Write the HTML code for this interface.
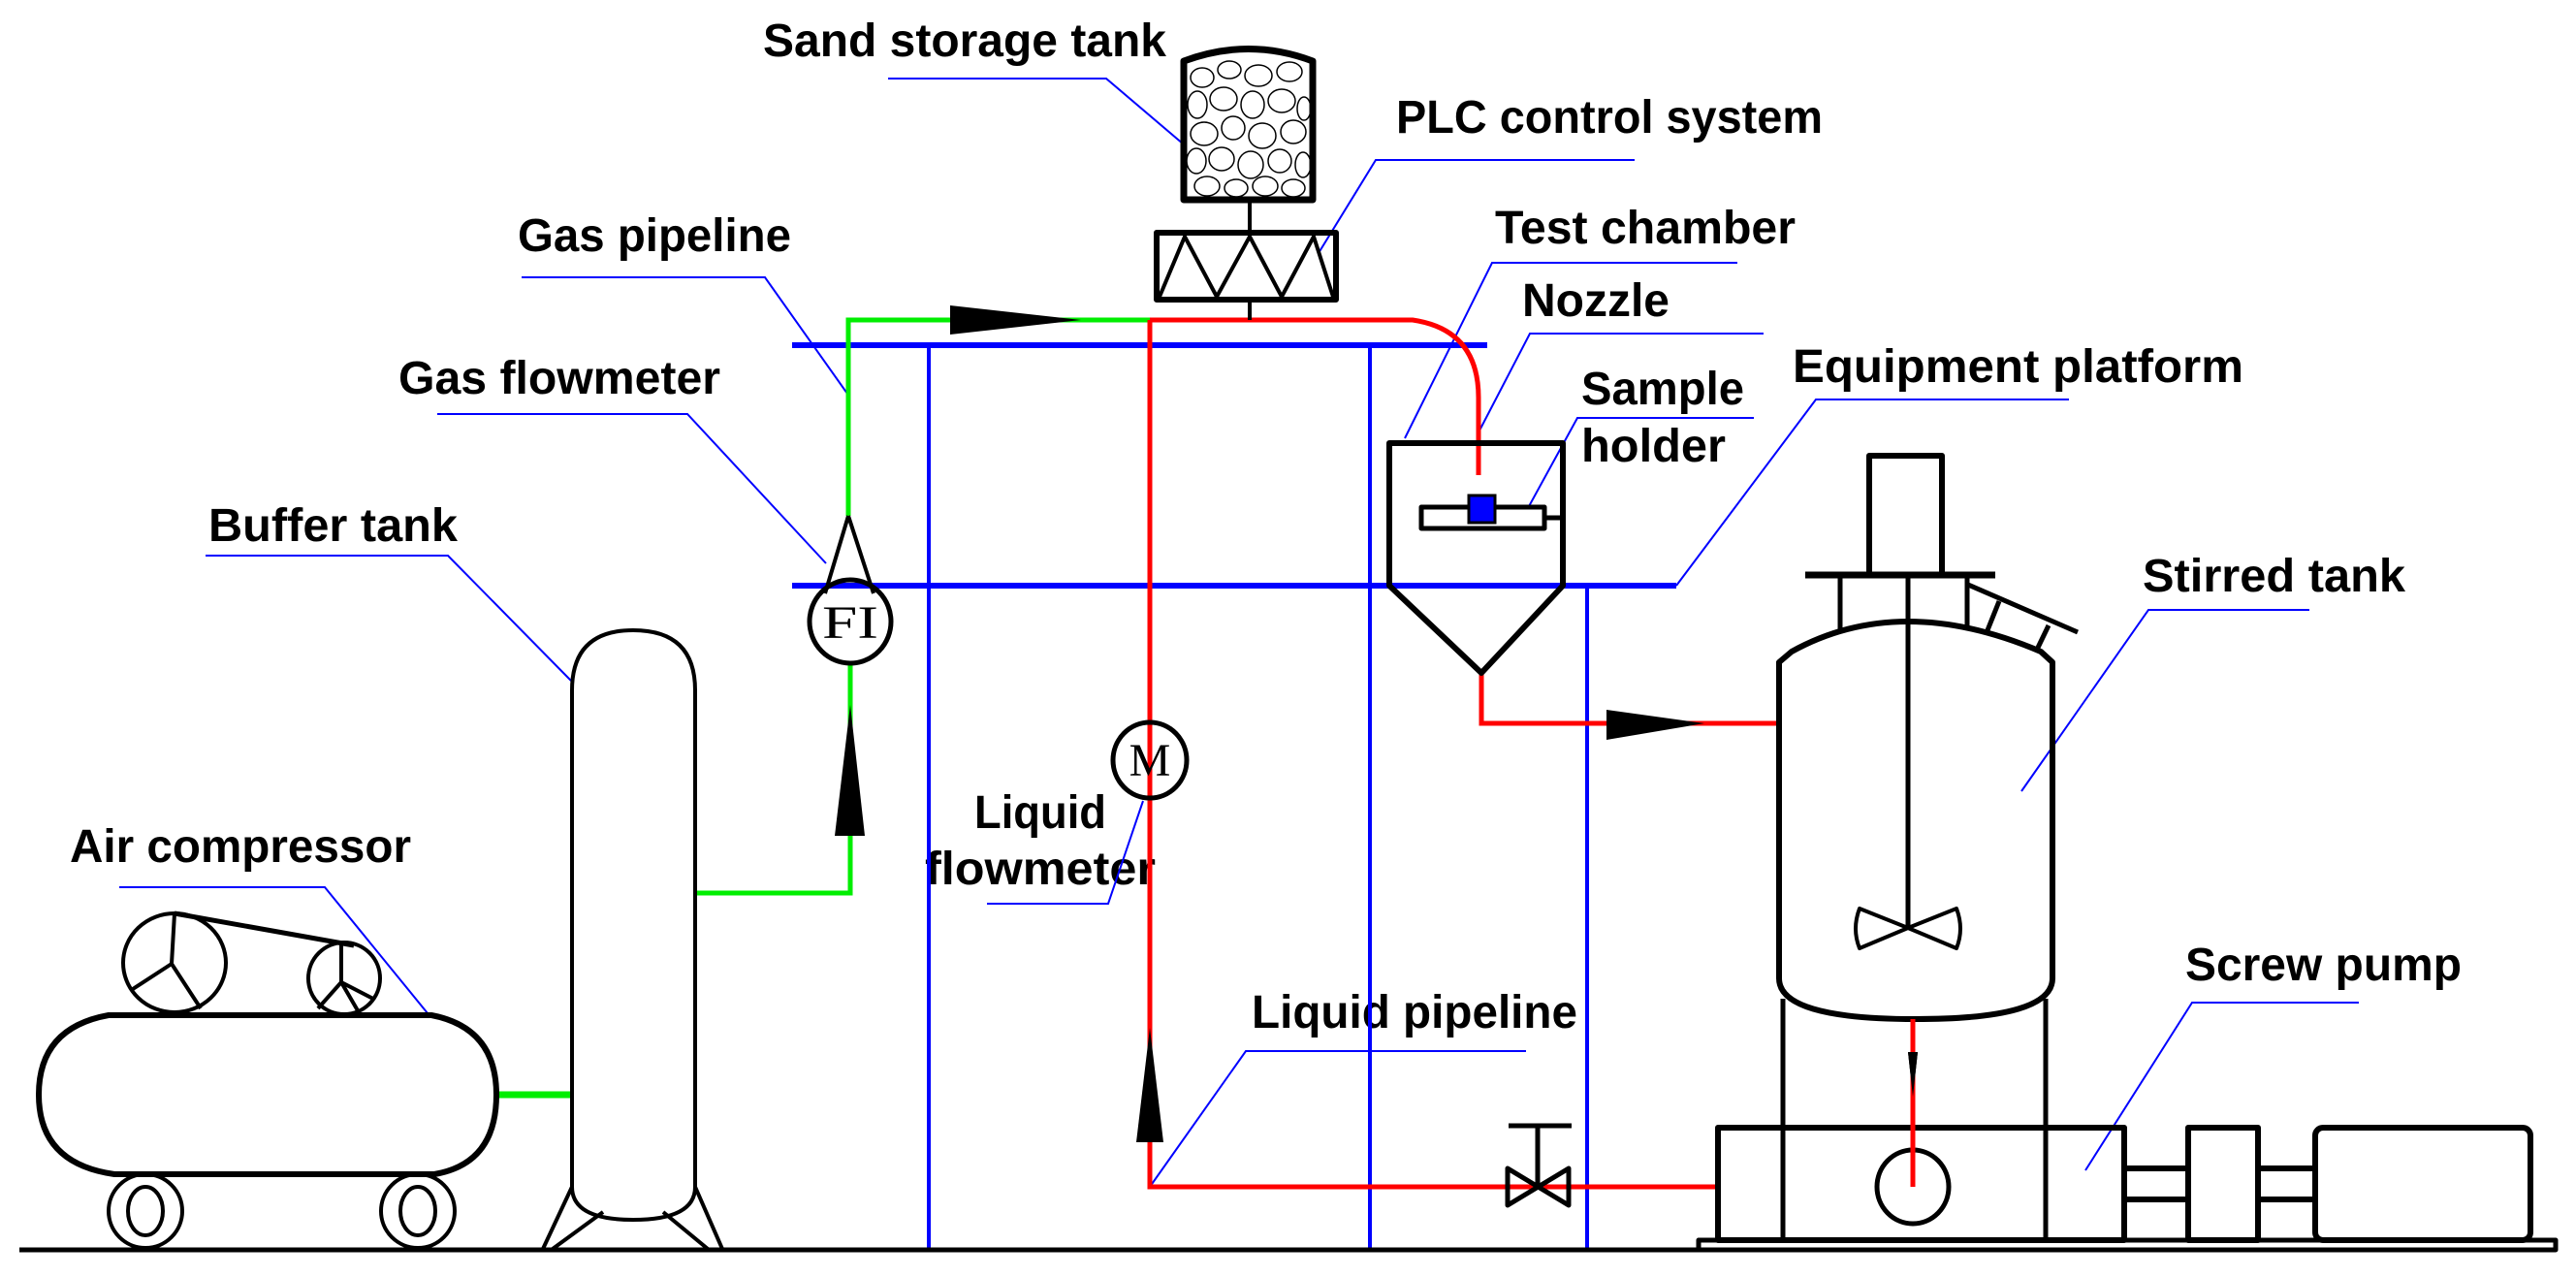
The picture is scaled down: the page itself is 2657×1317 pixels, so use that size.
<!DOCTYPE html>
<html><head><meta charset="utf-8"><style>html,body{margin:0;padding:0;background:#fff}svg{display:block}</style></head><body>
<svg width="2657" height="1317" viewBox="0 0 2657 1317" xmlns="http://www.w3.org/2000/svg">
<rect width="2657" height="1317" fill="#fff"/>
<g font-family="Liberation Sans, sans-serif" font-weight="bold" font-size="48" fill="#000">
<text x="787" y="58" textLength="416" lengthAdjust="spacingAndGlyphs">Sand storage tank</text>
<text x="1440" y="137" textLength="440" lengthAdjust="spacingAndGlyphs">PLC control system</text>
<text x="534" y="259" textLength="282" lengthAdjust="spacingAndGlyphs">Gas pipeline</text>
<text x="1542" y="251" textLength="310" lengthAdjust="spacingAndGlyphs">Test chamber</text>
<text x="1570" y="326" textLength="152" lengthAdjust="spacingAndGlyphs">Nozzle</text>
<text x="411" y="406" textLength="332" lengthAdjust="spacingAndGlyphs">Gas flowmeter</text>
<text x="1631" y="417" textLength="168" lengthAdjust="spacingAndGlyphs">Sample</text>
<text x="1631" y="476" textLength="149" lengthAdjust="spacingAndGlyphs">holder</text>
<text x="1849" y="394" textLength="465" lengthAdjust="spacingAndGlyphs">Equipment platform</text>
<text x="215" y="558" textLength="257" lengthAdjust="spacingAndGlyphs">Buffer tank</text>
<text x="2210" y="610" textLength="271" lengthAdjust="spacingAndGlyphs">Stirred tank</text>
<text x="1005" y="854" textLength="136" lengthAdjust="spacingAndGlyphs">Liquid</text>
<text x="954" y="912" textLength="238" lengthAdjust="spacingAndGlyphs">flowmeter</text>
<text x="72" y="889" textLength="352" lengthAdjust="spacingAndGlyphs">Air compressor</text>
<text x="2254" y="1011" textLength="285" lengthAdjust="spacingAndGlyphs">Screw pump</text>
<text x="1291" y="1060" textLength="336" lengthAdjust="spacingAndGlyphs">Liquid pipeline</text>
</g>
<g stroke="#0000ff" stroke-width="2" fill="none">
<polyline points="916,81 1141,81 1221,149"/>
<polyline points="1686,165 1419,165 1360,261"/>
<polyline points="538,286 789,286 874,406"/>
<polyline points="1792,271 1539,271 1449,452"/>
<polyline points="1819,344 1578,344 1525,446"/>
<polyline points="451,427 709,427 852,581"/>
<polyline points="1809,431 1627,431 1576,524"/>
<polyline points="2134,412 1873,412 1729,604"/>
<polyline points="212,573 462,573 589,702"/>
<polyline points="2382,629 2216,629 2085,816"/>
<polyline points="123,915 335,915 441,1045"/>
<polyline points="1018,932 1143,932 1179,826"/>
<polyline points="1574,1084 1285,1084 1186,1224"/>
<polyline points="2433,1034 2261,1034 2151,1207"/>
</g>
<g stroke="#0000ff" fill="none">
<line x1="817" y1="356" x2="1534" y2="356" stroke-width="6"/>
<line x1="817" y1="604" x2="1729" y2="604" stroke-width="6"/>
<line x1="958" y1="356" x2="958" y2="1289" stroke-width="4"/>
<line x1="1413" y1="356" x2="1413" y2="1289" stroke-width="4"/>
<line x1="1637" y1="604" x2="1637" y2="1289" stroke-width="4"/>
</g>
<g stroke="#00ee00" stroke-width="5" fill="none">
<polyline points="875,532 875,330 1186,330"/>
<polyline points="877,685 877,921 717,921"/>
<line x1="512" y1="1129" x2="590" y2="1129" stroke-width="7"/>
</g>
<g stroke="#ff0000" stroke-width="5" fill="none">
<path d="M1186,330 L1457,330 Q1525,340 1525,410 L1525,490"/>
<polyline points="1186,330 1186,1224 1772,1224"/>
<polyline points="1528,694 1528,746 1833,746"/>
</g>
<g fill="#000">
<polygon points="980,315 1115,330 980,345"/>
<polygon points="861,862 877,727 892,862"/>
<polygon points="1172,1178 1186,1060 1200,1178"/>
<polygon points="1657,732 1758,746 1657,763"/>
<polygon points="1968,1085 1978,1085 1973,1131"/>
</g>
<g stroke="#000" fill="none" stroke-width="5" stroke-linejoin="round">
<line x1="20" y1="1289" x2="1754" y2="1289" stroke-width="5"/>
<path d="M1221,206 L1221,63 Q1288,38 1354,63 L1354,206 Z" stroke-width="7"/>
<line x1="1289" y1="206" x2="1289" y2="240" stroke-width="4"/>
<line x1="1289" y1="309" x2="1289" y2="330" stroke-width="4"/>
<rect x="1193" y="240" width="185" height="69" stroke-width="6"/>
<polyline points="1196,306 1222,244 1255,306 1289,244 1322,306 1355,244 1375,306" stroke-width="4"/>
<path d="M875,532 L851,612 M875,532 L901,612" stroke-width="4"/>
<ellipse cx="877" cy="641" rx="42" ry="43" stroke-width="5"/>
<ellipse cx="1186" cy="784" rx="38" ry="39" stroke-width="5"/>
<path d="M590,1224 L590,712 Q590,650 653,650 Q717,650 717,712 L717,1224 Q717,1258 653,1258 Q590,1258 590,1224 Z" stroke-width="4"/>
<path d="M590,1224 L560,1288 M717,1224 L745,1288 M622,1250 L570,1288 M684,1250 L730,1288" stroke-width="4"/>
<path d="M112,1047 L445,1047 Q512,1060 512,1129 Q512,1200 448,1211 L118,1211 Q40,1200 40,1129 Q40,1060 112,1047 Z" stroke-width="6"/>
<ellipse cx="180" cy="993" rx="53" ry="51" stroke-width="4"/>
<path d="M180,942 L177,994 L137,1020 M177,994 L207,1040" stroke-width="4"/>
<ellipse cx="355" cy="1009" rx="37" ry="37" stroke-width="4"/>
<path d="M352,973 L352,1013 L328,1040 M352,1013 L385,1030 M352,1013 L370,1044" stroke-width="4"/>
<line x1="180" y1="942" x2="365" y2="975" stroke-width="5"/>
<ellipse cx="150" cy="1249" rx="38" ry="38" stroke-width="4"/>
<ellipse cx="150" cy="1249" rx="18" ry="25" stroke-width="4"/>
<ellipse cx="431" cy="1249" rx="38" ry="38" stroke-width="4"/>
<ellipse cx="431" cy="1249" rx="18" ry="25" stroke-width="4"/>
<path d="M1433,604 L1433,457 L1612,457 L1612,604 L1528,694 Z" stroke-width="6"/>
<rect x="1466" y="523" width="127" height="22" stroke-width="5"/>
<line x1="1593" y1="534" x2="1612" y2="534" stroke-width="5"/>
<rect x="1928" y="470" width="75" height="123" stroke-width="6"/>
<line x1="1862" y1="593" x2="2058" y2="593" stroke-width="7"/>
<path d="M1898,593 L1898,650 M2029,593 L2029,648 M1968,593 L1968,957" stroke-width="5"/>
<path d="M1835,1009 L1835,683 L1848,672 Q1960,610 2105,672 L2117,683 L2117,1009 Q2117,1051 1976,1051 Q1835,1051 1835,1009 Z" stroke-width="6"/>
<path d="M2030,603 L2143,652 M2062,620 L2050,650 M2113,645 L2100,672" stroke-width="5"/>
<path d="M1968,957 L1918,937 Q1910,958 1918,978 Z M1968,957 L2018,937 Q2026,958 2018,978 Z" stroke-width="4"/>
<path d="M1839,1030 L1839,1279 M2110,1030 L2110,1279" stroke-width="5"/>
<rect x="1772" y="1163" width="419" height="116" stroke-width="6"/>
<ellipse cx="1973" cy="1224" rx="37" ry="38" stroke-width="5"/>
<rect x="2257" y="1163" width="72" height="116" stroke-width="6"/>
<rect x="2388" y="1163" width="222" height="116" rx="8" stroke-width="6"/>
<path d="M2191,1205 L2257,1205 M2191,1237 L2257,1237 M2329,1205 L2388,1205 M2329,1237 L2388,1237" stroke-width="6"/>
<rect x="1752" y="1279" width="884" height="10" stroke-width="5"/>
<path d="M1555,1205 L1618,1243 L1618,1205 L1555,1243 Z" stroke-width="5"/>
<path d="M1586,1224 L1586,1161 M1556,1161 L1621,1161" stroke-width="5"/>
</g>
<line x1="1973" y1="1051" x2="1973" y2="1224" stroke="#ff0000" stroke-width="5"/>
<polygon points="1968,1085 1978,1085 1973,1131" fill="#000"/>
<rect x="1515" y="511" width="27" height="28" fill="#0000ff" stroke="#000" stroke-width="3"/>
<g stroke="#000" stroke-width="1.5" fill="none">
<ellipse cx="1240" cy="80" rx="12" ry="10"/><ellipse cx="1268" cy="72" rx="12" ry="9"/><ellipse cx="1298" cy="78" rx="14" ry="11"/><ellipse cx="1330" cy="74" rx="13" ry="10"/>
<ellipse cx="1235" cy="108" rx="10" ry="14"/><ellipse cx="1262" cy="102" rx="14" ry="12"/><ellipse cx="1292" cy="108" rx="12" ry="14"/><ellipse cx="1322" cy="104" rx="14" ry="12"/><ellipse cx="1345" cy="112" rx="7" ry="12"/>
<ellipse cx="1242" cy="138" rx="14" ry="12"/><ellipse cx="1272" cy="132" rx="12" ry="12"/><ellipse cx="1302" cy="140" rx="14" ry="13"/><ellipse cx="1334" cy="136" rx="13" ry="12"/>
<ellipse cx="1234" cy="166" rx="10" ry="13"/><ellipse cx="1260" cy="164" rx="13" ry="12"/><ellipse cx="1290" cy="170" rx="13" ry="14"/><ellipse cx="1320" cy="166" rx="12" ry="12"/><ellipse cx="1344" cy="170" rx="8" ry="13"/>
<ellipse cx="1245" cy="192" rx="13" ry="10"/><ellipse cx="1275" cy="194" rx="12" ry="9"/><ellipse cx="1305" cy="192" rx="13" ry="10"/><ellipse cx="1334" cy="194" rx="12" ry="9"/>
</g>
<g font-family="Liberation Serif, serif" font-size="48" fill="#000">
<text x="877" y="658" text-anchor="middle" textLength="58" lengthAdjust="spacingAndGlyphs">FI</text>
<text x="1186" y="800" text-anchor="middle">M</text>
</g>
</svg>
</body></html>
